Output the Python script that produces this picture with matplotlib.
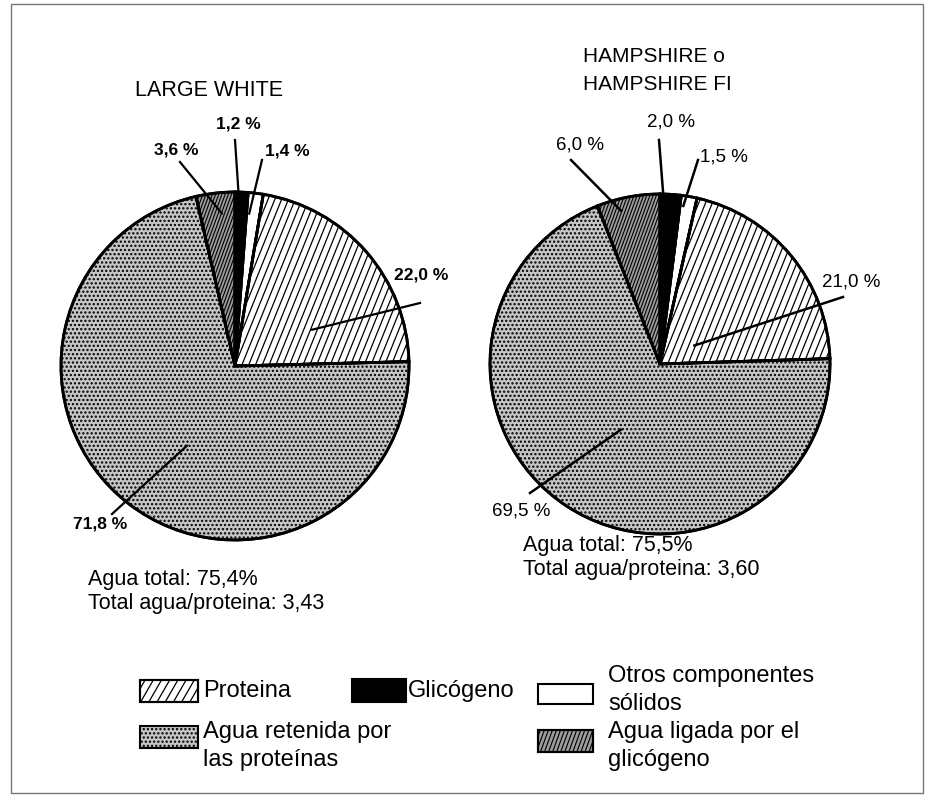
import numpy as np
import matplotlib
matplotlib.use("Agg")
import matplotlib.pyplot as plt
from matplotlib.patches import Rectangle, Wedge
from matplotlib.collections import LineCollection

W, H = 930, 799

componentes = ["Glicógeno", "Otros componentes\nsólidos", "Proteina",
               "Agua retenida por\nlas proteínas", "Agua ligada por el\nglicógeno"]
large_white = [1.2, 1.4, 22.0, 71.8, 3.6]
hampshire = [2.0, 1.5, 21.0, 69.5, 6.0]
etiq_lw = ["1,2 %", "1,4 %", "22,0 %", "71,8 %", "3,6 %"]
etiq_hs = ["2,0 %", "1,5 %", "21,0 %", "69,5 %", "6,0 %"]
titulos = ["LARGE WHITE", "HAMPSHIRE o\nHAMPSHIRE FI"]
agua_total = ["75,4%", "75,5%"]
agua_prot = ["3,43", "3,60"]

colores = ["black", "white", "white", "#c6c6c6", "#9c9c9c"]
tramas = [None, None, None, "....", None]
# steep line shading drawn by hand: (angle, spacing px, width pt) or None
rayas = [None, None, (68, 6.3, 0.9), None, (70, 3.0, 0.8)]

plt.rcParams['font.family'] = ['Liberation Sans', 'DejaVu Sans']
plt.rcParams['hatch.linewidth'] = 1.1

fig = plt.figure(figsize=(W / 100, H / 100), dpi=100)
ax = fig.add_axes([0, 0, 1, 1])
ax.set_xlim(0, W)
ax.set_ylim(0, H)


def Y(y):
    # pixel row (top down) -> data y
    return H - y


def rayado(patch, caja, angulo, paso, lw):
    x0, y0, x1, y1 = caja
    a = np.deg2rad(angulo)
    d = np.array([np.cos(a), np.sin(a)])
    n = np.array([-np.sin(a), np.cos(a)])
    esquinas = np.array([[x0, y0], [x0, y1], [x1, y0], [x1, y1]])
    proy = esquinas @ n
    largo = np.hypot(x1 - x0, y1 - y0)
    c = esquinas.mean(axis=0)
    segs = []
    for t in np.arange(proy.min(), proy.max() + paso, paso):
        p = c + (t - c @ n) * n
        segs.append([p - largo * d, p + largo * d])
    lc = LineCollection(segs, colors="black", linewidths=lw, zorder=2)
    ax.add_collection(lc)
    lc.set_clip_path(patch)


def pastel(valores, centro, radio):
    cunas, _ = ax.pie(valores, colors=colores, hatch=tramas, startangle=90,
                      counterclock=False, center=(centro[0], Y(centro[1])),
                      radius=radio, frame=True,
                      wedgeprops=dict(edgecolor="black", linewidth=2))
    cx, cy = centro[0], Y(centro[1])
    for cuna, ry in zip(cunas, rayas):
        if ry:
            rayado(cuna, (cx - radio, cy - radio, cx + radio, cy + radio), *ry)
    # outlines again on top of the hand-drawn shading
    for cuna in cunas:
        ax.add_patch(Wedge(cuna.center, cuna.r, cuna.theta1, cuna.theta2,
                           facecolor="none", edgecolor="black", linewidth=2,
                           zorder=3))
    return cunas


def punto(cuna, frac, rfrac):
    th = np.deg2rad(cuna.theta1 + frac * (cuna.theta2 - cuna.theta1))
    cx, cy = cuna.center
    return cx + rfrac * cuna.r * np.cos(th), cy + rfrac * cuna.r * np.sin(th)


# left pie: label pos, line start, (fraction along wedge, radius fraction)
c1 = pastel(large_white, (235, 366), 174)
lay1 = [((238, 124), (235, 140), (0.7, 0.97)),
        ((287, 151), (262, 160), (0.8, 0.88)),
        ((421, 275), (420, 303), (0.30, 0.49)),
        ((100, 524), (112, 514), (0.526, 0.535)),
        ((176, 150), (180, 162), (0.38, 0.88))]
for cuna, txt, (pos, ini, (f, r)) in zip(c1, etiq_lw, lay1):
    ax.text(pos[0], Y(pos[1]), txt, ha="center", va="center", fontsize=12.5,
            fontweight="bold")
    x1, y1 = punto(cuna, f, r)
    ax.plot([ini[0], x1], [Y(ini[1]), y1], color="black", lw=1.6, zorder=4)

# right pie
c2 = pastel(hampshire, (660, 364), 170)
lay2 = [((671, 122), (659, 140), (0.85, 1.0)),
        ((724, 157), (698, 160), (0.78, 0.94)),
        ((851, 282), (843, 297), (0.35, 0.23)),
        ((521, 511), (530, 493), (0.51, 0.45)),
        ((580, 145), (571, 160), (0.66, 0.93))]
for cuna, txt, (pos, ini, (f, r)) in zip(c2, etiq_hs, lay2):
    ax.text(pos[0], Y(pos[1]), txt, ha="center", va="center", fontsize=13.5)
    x1, y1 = punto(cuna, f, r)
    ax.plot([ini[0], x1], [Y(ini[1]), y1], color="black", lw=1.8, zorder=4)

# titles and notes
ax.text(135, Y(90), titulos[0], ha="left", va="center", fontsize=15.5)
ax.text(583, Y(70), titulos[1], ha="left", va="center", fontsize=15,
        linespacing=1.6)
for x0, y0, at, ap in [(88, 580, agua_total[0], agua_prot[0]),
                       (523, 546, agua_total[1], agua_prot[1])]:
    ax.text(x0, Y(y0), "Agua total: " + at, ha="left", va="center",
            fontsize=15.5)
    ax.text(x0, Y(y0 + 24), "Total agua/proteina: " + ap, ha="left",
            va="center", fontsize=15.5)

# legend (patch x, y top, w, h, text x, text y centre)
ley = [(352, 679, 54, 23, 408, 691),
       (538, 684, 55, 20, 608, 690),
       (140, 680, 58, 22, 203, 691),
       (140, 726, 58, 22, 203, 746),
       (538, 730, 55, 22, 608, 746)]
for nombre, col, tr, ry, (px, py, pw, ph, tx, ty) in zip(
        componentes, colores, tramas, rayas, ley):
    rect = Rectangle((px, Y(py + ph)), pw, ph, facecolor=col, hatch=tr,
                     edgecolor="black", linewidth=1.5)
    ax.add_patch(rect)
    if ry:
        ang = 60 if ry[1] > 4 else ry[0]
        rayado(rect, (px, Y(py + ph), px + pw, Y(py)), ang, ry[1] + 0.8, ry[2])
        ax.add_patch(Rectangle((px, Y(py + ph)), pw, ph, facecolor="none",
                               edgecolor="black", linewidth=1.5, zorder=3))
    ax.text(tx, Y(ty), nombre, ha="left", va="center", fontsize=17,
            linespacing=1.3)

# outer frame
ax.add_patch(Rectangle((11, Y(793)), 912, 789, fill=False, edgecolor="#777777",
                       linewidth=1))

ax.set_xlim(0, W)
ax.set_ylim(0, H)
ax.set_aspect("auto")
ax.axis("off")

fig.savefig("out.png", dpi=100)
